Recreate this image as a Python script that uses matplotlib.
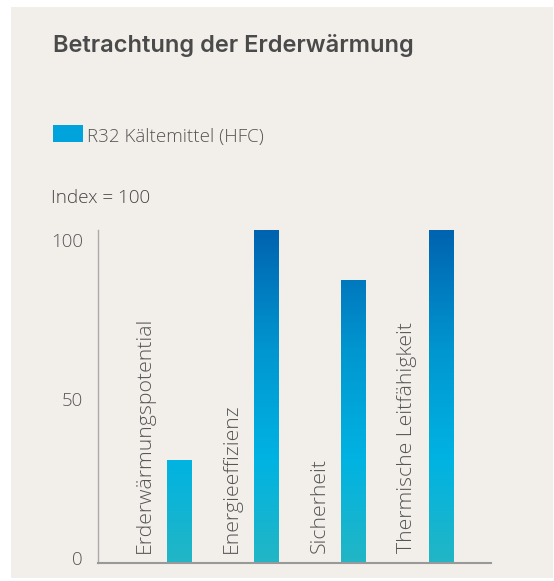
import matplotlib
matplotlib.use("Agg")
import matplotlib.pyplot as plt
import numpy as np
from matplotlib.colors import LinearSegmentedColormap
from matplotlib.patches import Rectangle
from matplotlib.transforms import ScaledTranslation

categories = ["Erderwärmungspotential", "Energieeffizienz", "Sicherheit", "Thermische Leitfähigkeit"]
values = [31, 100, 85, 100]
yticks = [0, 50, 100]
title = "Betrachtung der Erderwärmung"
legend_label = "R32 Kältemittel (HFC)"
index_note = "Index = 100"

BG = "#f2eeea"
TXT = "#555555"
LIGHT = ["Open Sans", "DejaVu Sans"]

W, H = 554, 581
fig = plt.figure(figsize=(W / 100, H / 100), dpi=100)
fig.patch.set_facecolor("white")
fig.add_artist(Rectangle((11 / W, 3 / H), (553 - 11) / W, (574 - 3) / H,
                         transform=fig.transFigure, facecolor=BG, edgecolor="none", zorder=-10))

ax = fig.add_axes([98 / W, (H - 563) / H, (491 - 98) / W, (563 - 230) / H])
ax.set_facecolor("none")

cmap = LinearSegmentedColormap.from_list(
    "grad", [(0.0, "#22b6c5"), (0.31, "#00b3e2"), (0.64, "#0096d0"), (1.0, "#0063b0")])

x = np.arange(len(categories))
bw = 0.28
bars = ax.bar(x, values, width=bw, color="none", edgecolor="none")
grad = np.linspace(0, 1, 256).reshape(-1, 1)
for b in bars:
    im = ax.imshow(grad, cmap=cmap, origin="lower", aspect="auto",
                   extent=(-1, 4, 0, 100), zorder=2)
    im.set_clip_path(b)
    b.set_clip_on(False)

ax.set_xlim(-0.928, 3.573)
ax.set_ylim(0, 100)

for xi, lab in zip(x, categories):
    ax.text(xi - 0.39, 3, lab, rotation=90, ha="center", va="bottom",
            fontsize=15.3, color=TXT, family=LIGHT, fontweight="light")

for s in ["top", "right"]:
    ax.spines[s].set_visible(False)
ax.spines["left"].set_color("#aaaaaa")
ax.spines["left"].set_linewidth(1.0)
ax.spines["bottom"].set_color("#999999")
ax.spines["bottom"].set_linewidth(1.5)
ax.set_xticks([])
ax.set_yticks(yticks)
ax.set_yticklabels([str(t) for t in yticks], family=LIGHT, fontweight="light")
ax.tick_params(axis="y", length=0, pad=11, labelsize=13.5, labelcolor=TXT)
offs = {0: 5, 50: -3, 100: -10}
for t, lbl in zip(yticks, ax.get_yticklabels()):
    lbl.set_transform(lbl.get_transform() + ScaledTranslation(0, offs[t] / 100, fig.dpi_scale_trans))

fig.text(53 / W, (H - 52) / H, title, fontsize=17, fontweight="semibold",
         family=["Inter", "DejaVu Sans"], color="#4a4a4a", va="baseline", ha="left")

fig.add_artist(Rectangle((53 / W, (H - 142) / H), 30 / W, 17 / H, transform=fig.transFigure,
                         facecolor="#00a3dc", edgecolor="none"))
fig.text(87 / W, (H - 142) / H, legend_label, fontsize=13.5, family=LIGHT, fontweight="light",
         color=TXT, va="baseline", ha="left")
fig.text(51 / W, (H - 203) / H, index_note, fontsize=13.6, family=LIGHT, fontweight="light",
         color="#444444", va="baseline", ha="left")

fig.savefig("out.png", dpi=100, facecolor="white")
